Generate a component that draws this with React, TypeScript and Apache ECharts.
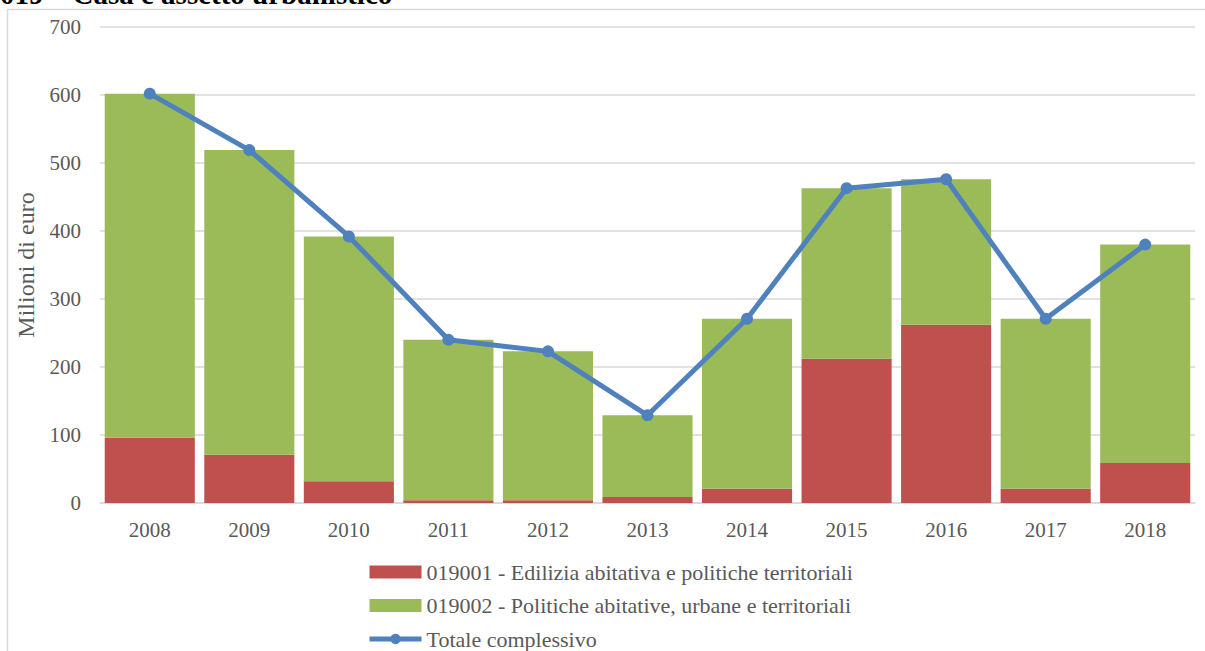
import React, { useEffect, useRef } from "react";
import * as echarts from "echarts";

const years = ["2008", "2009", "2010", "2011", "2012", "2013", "2014", "2015", "2016", "2017", "2018"];
const edilizia = [96, 71, 32, 4, 4, 9, 21, 212, 262, 21, 59];
const politiche = [506, 448, 360, 236, 219, 120, 250, 251, 214, 250, 321];
const totale = [602, 519, 392, 240, 223, 129, 271, 463, 476, 271, 380];

const NAME1 = "019001 - Edilizia abitativa e politiche territoriali";
const NAME2 = "019002 - Politiche abitative, urbane e territoriali";
const NAME3 = "Totale complessivo";

const FONT = "Liberation Serif";
const TXT = "#595959";
const H = 720;

export default function App() {
  const ref = useRef<HTMLDivElement>(null);
  useEffect(() => {
    if (!ref.current) return;
    const chart = echarts.init(ref.current, undefined, { renderer: "svg" });
    chart.setOption({
      animation: false,
      textStyle: { fontFamily: FONT },
      graphic: [
        {
          type: "polyline",
          shape: { points: [[7.5, H], [7.5, 9.5], [1205, 9.5]] },
          style: { fill: "none", stroke: "#d9d9d9", lineWidth: 1.5 },
          silent: true,
        },
        {
          type: "text",
          x: 0,
          y: 8,
          style: {
            text: "019 – Casa e assetto urbanistico",
            fontFamily: FONT,
            fontWeight: "bold",
            fontSize: 29,
            fill: "#000",
            verticalAlign: "bottom",
          },
        },
      ],
      grid: { left: 100, right: 10, top: 27, bottom: H - 503, containLabel: false },
      legend: {
        orient: "vertical",
        left: 362,
        top: 556,
        itemGap: 11.5,
        itemWidth: 52,
        itemHeight: 13,
        lineStyle: { width: 5, color: "#4F81BD" },
        textStyle: { fontFamily: FONT, fontSize: 22, lineHeight: 22, color: TXT },
        data: [
          { name: NAME1, icon: "rect", itemStyle: { color: "#C0504D" } },
          { name: NAME2, icon: "rect", itemStyle: { color: "#9BBB59" } },
          { name: NAME3 },
        ],
      },
      xAxis: {
        type: "category",
        data: years,
        axisLine: { show: true, lineStyle: { color: "#d9d9d9", width: 1.5 } },
        axisTick: { show: false },
        axisLabel: { fontFamily: FONT, fontSize: 21, color: TXT, margin: 16 },
      },
      yAxis: {
        type: "value",
        min: 0,
        max: 700,
        interval: 100,
        name: "Milioni di euro",
        nameLocation: "middle",
        nameGap: 62,
        nameTextStyle: { fontFamily: FONT, fontSize: 24, color: TXT },
        axisLine: { show: false },
        axisTick: { show: false },
        axisLabel: { fontFamily: FONT, fontSize: 21, color: TXT, margin: 19 },
        splitLine: { lineStyle: { color: "#d9d9d9", width: 1.5 } },
      },
      series: [
        {
          name: NAME1,
          type: "bar",
          stack: "a",
          data: edilizia,
          barCategoryGap: "9.5%",
          itemStyle: { color: "#C0504D" },
        },
        {
          name: NAME2,
          type: "bar",
          stack: "a",
          data: politiche,
          barCategoryGap: "9.5%",
          itemStyle: { color: "#9BBB59" },
        },
        {
          name: NAME3,
          type: "line",
          data: totale,
          symbol: "circle",
          symbolSize: 12,
          lineStyle: { color: "#4F81BD", width: 5 },
          itemStyle: { color: "#4F81BD" },
        },
      ],
    });
    return () => chart.dispose();
  }, []);
  return (
    <div style={{ position: "absolute", left: 0, top: 0, width: 1205, height: 651, overflow: "hidden" }}>
      <div ref={ref} style={{ width: 1205, height: H }} />
    </div>
  );
}
